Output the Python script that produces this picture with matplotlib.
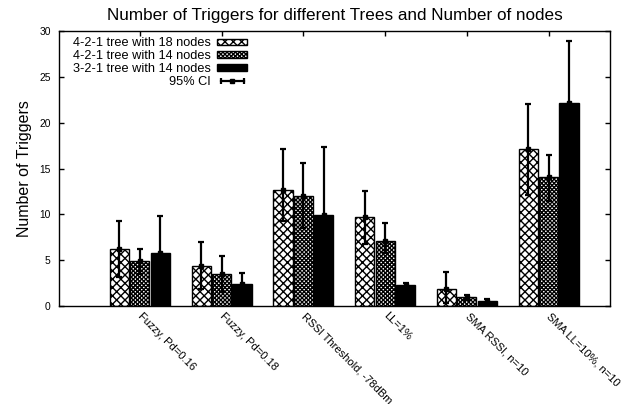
import matplotlib
matplotlib.use("Agg")
from matplotlib import pyplot as plt
from matplotlib.lines import Line2D
from matplotlib.patches import Patch
from matplotlib.legend_handler import HandlerLine2D, HandlerTuple
from matplotlib.transforms import ScaledTranslation
import numpy as np

plt.rcParams['font.family'] = ['Liberation Sans', 'DejaVu Sans']
plt.rcParams['hatch.linewidth'] = 1.0

categories = ["Fuzzy, Pd=0.16", "Fuzzy, Pd=0.18", "RSSI Threshold, -78dBm",
              "LL=1%", "SMA RSSI, n=10", "SMA LL=10%, n=10"]
series = ["4-2-1 tree with 18 nodes", "4-2-1 tree with 14 nodes",
          "3-2-1 tree with 14 nodes"]

# mean number of triggers
tree18 = [6.2, 4.38, 12.7, 9.7, 1.85, 17.15]
tree14 = [4.9, 3.45, 12.0, 7.1, 0.95, 14.05]
tree321 = [5.75, 2.35, 9.9, 2.3, 0.55, 22.2]

# 95% CI bounds
tree18_lo = [3.2, 1.8, 9.3, 6.8, 0.3, 12.1]
tree18_hi = [9.3, 7.0, 17.1, 12.6, 3.75, 22.0]
tree14_lo = [3.5, 1.5, 8.5, 5.75, 0.65, 11.5]
tree14_hi = [6.25, 5.45, 15.6, 9.05, 1.25, 16.5]
tree321_lo = [1.65, 1.1, 2.5, 2.1, 0.3, 15.5]
tree321_hi = [9.85, 3.6, 17.3, 2.5, 0.8, 28.95]

means = [tree18, tree14, tree321]
lows = [tree18_lo, tree14_lo, tree321_lo]
highs = [tree18_hi, tree14_hi, tree321_hi]
hatches = ['xxxx', 'xxxxxxxx', None]
faces = ['white', 'white', 'black']

fig = plt.figure(figsize=(6.34, 4.04), dpi=100)
ax = fig.add_axes([0.093, 0.2426, 0.869, 0.6804])

x = np.arange(1, len(categories) + 1)
w = 0.235
off = 0.25
handles = []
for i in range(3):
    xi = x + (i - 1) * off
    m = np.array(means[i])
    yerr = [m - np.array(lows[i]), np.array(highs[i]) - m]
    ax.bar(xi, m, w, color=faces[i], edgecolor='black', linewidth=1.0,
           hatch=hatches[i], zorder=2)
    ax.errorbar(xi, m, yerr=yerr, fmt='s', color='black', ms=3.5,
                elinewidth=1.6, capsize=2.5, capthick=1.6, zorder=3)
    handles.append(Patch(facecolor=faces[i], edgecolor='black',
                         hatch=hatches[i], linewidth=1.0))

# CI key: horizontal bar with end caps and a square in the middle
ci_line = Line2D([], [], color='black', lw=1.6, marker='|', ms=5, mew=1.6)
ci_dot = Line2D([], [], color='black', lw=0, marker='s', ms=3.5)
handles.append((ci_line, ci_dot))

ax.legend(handles, series + ["95% CI"], loc='upper left',
          bbox_to_anchor=(0.013, 1.0), frameon=False, markerfirst=False,
          alignment='right', fontsize=9.2, handlelength=2.4,
          handleheight=0.4, labelspacing=0.06, handletextpad=0.5,
          borderaxespad=0.1,
          handler_map={ci_line: HandlerLine2D(numpoints=2),
                       ci_dot: HandlerLine2D(numpoints=1),
                       tuple: HandlerTuple(ndivide=1, pad=0)})

ax.set_xlim(0.01, 6.75)
ax.set_ylim(0, 30)
ax.set_yticks(range(0, 31, 5))
ax.set_xticks(x)
ax.set_xticklabels(categories, rotation=-45, ha='left', va='center',
                   rotation_mode='anchor', fontsize=8.0)
shift = ScaledTranslation(-1 / 100, 3 / 100, fig.dpi_scale_trans)
for lab in ax.get_xticklabels():
    lab.set_transform(lab.get_transform() + shift)
ax.tick_params(direction='in', top=True, right=True, length=3.5,
               width=1.0, labelsize=7.4)
ax.tick_params(axis='x', pad=6, labelsize=8.0)
ax.tick_params(axis='y', pad=6)
for s in ax.spines.values():
    s.set_linewidth(1.0)

ax.set_ylabel("Number of Triggers", fontsize=11.5, labelpad=5)
ax.set_title("Number of Triggers for different Trees and Number of nodes",
             fontsize=12.3, pad=8)

fig.savefig("out.png", dpi=100)
